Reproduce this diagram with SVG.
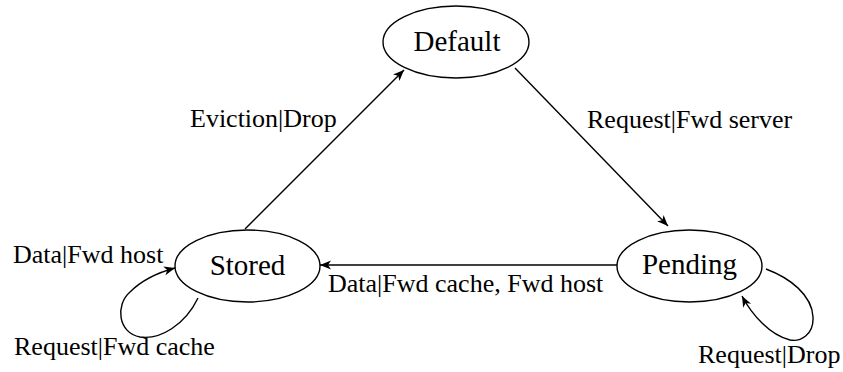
<svg xmlns="http://www.w3.org/2000/svg" width="843" height="372" viewBox="0 0 843 372">
<defs>
<style>
.node ellipse{fill:#fff;stroke:#000;stroke-width:1.4}
.node text{font-family:"Liberation Serif","Times New Roman",serif;font-size:29px;text-anchor:middle;fill:#000}
.edge{fill:none;stroke:#000;stroke-width:1.4}
.lbl{font-family:"Liberation Serif","Times New Roman",serif;font-size:26px;fill:#000}
</style>
<marker id="arr" viewBox="-12 -6 14 12" refX="0" refY="0" markerWidth="14" markerHeight="12" markerUnits="userSpaceOnUse" orient="auto">
<path d="M0,0 L-11,-4.5 L-8,0 L-11,4.5 Z" fill="#000"/>
</marker>
</defs>
<rect width="843" height="372" fill="#fff"/>
<g id="connectors">
<path class="edge" d="M245,229 L404,70" marker-end="url(#arr)"/>
<path class="edge" d="M515,68 L668,226" marker-end="url(#arr)"/>
<path class="edge" d="M617,265 L320,265" marker-end="url(#arr)"/>
<path class="edge" d="M198,298 C185,325 160,340 140,337 C118,333 115,305 130,292 C142,280 160,272 175,268" marker-end="url(#arr)"/>
<path class="edge" d="M766,269 C790,278 812,295 813,317 C814,335 800,342 790,340 C770,335 752,315 742,296" marker-end="url(#arr)"/>
<text class="lbl" x="190" y="127">Eviction|Drop</text>
<text class="lbl" x="587" y="128">Request|Fwd server</text>
<text class="lbl" x="13" y="263">Data|Fwd host</text>
<text class="lbl" x="14" y="355">Request|Fwd cache</text>
<text class="lbl" x="328" y="292">Data|Fwd cache, Fwd host</text>
<text class="lbl" x="698" y="363">Request|Drop</text>
</g>
<g id="default" class="node">
<ellipse cx="456" cy="42" rx="73" ry="36"/>
<text x="457" y="51">Default</text>
</g>
<g id="stored" class="node">
<ellipse cx="247.5" cy="266" rx="72.5" ry="36"/>
<text x="247.5" y="275">Stored</text>
</g>
<g id="pending" class="node">
<ellipse cx="689.5" cy="266" rx="72.5" ry="36"/>
<text x="689.5" y="274">Pending</text>
</g>
</svg>
